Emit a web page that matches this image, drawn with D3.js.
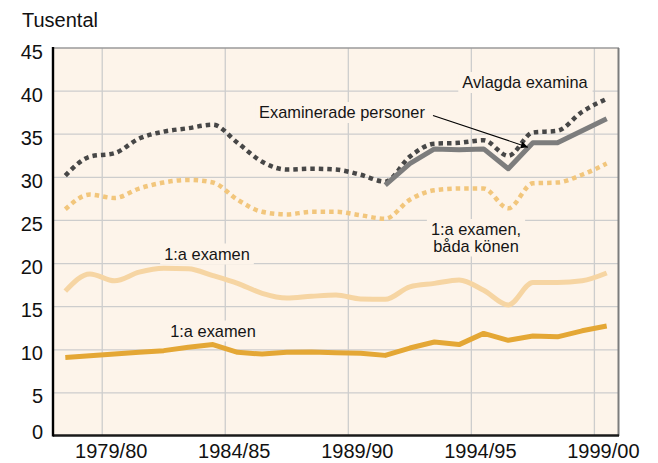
<!DOCTYPE html>
<html>
<head>
<meta charset="utf-8">
<script src="https://cdn.jsdelivr.net/npm/d3@7"></script>
<style>
  html, body { margin: 0; padding: 0; background: #fff; }
  svg { display: block; font-family: "Liberation Sans", Arial, Helvetica, sans-serif; }
</style>
</head>
<body>
<svg id="chart" width="658" height="463"></svg>
<script>
// läsåren på x-axeln
const YEARS = ["1977/78", "1978/79", "1979/80", "1980/81", "1981/82", "1982/83", "1983/84",
  "1984/85", "1985/86", "1986/87", "1987/88", "1988/89", "1989/90", "1990/91", "1991/92",
  "1992/93", "1993/94", "1994/95", "1995/96", "1996/97", "1997/98", "1998/99", "1999/00"];
const X_TICKS = ["1979/80", "1984/85", "1989/90", "1994/95", "1999/00"];
const Y_TICKS = [0, 5, 10, 15, 20, 25, 30, 35, 40, 45];

// tusental
const avlagdaExamina = [30.2, 32.4, 32.8, 34.5, 35.3, 35.7, 36.1, 34.0, 31.8, 30.9, 31.0, 30.9,
  30.3, 29.5, 32.4, 33.9, 34.0, 34.3, 32.5, 35.2, 35.4, 37.6, 39.1];
const examineradePersoner = [null, null, null, null, null, null, null, null, null, null, null, null,
  null, 29.1, 31.6, 33.3, 33.2, 33.3, 31.0, 34.0, 34.0, 35.4, 36.8];
const forstaExamenBada = [26.3, 28.0, 27.6, 28.7, 29.4, 29.7, 29.4, 27.4, 26.0, 25.7, 26.0, 26.0,
  25.6, 25.2, 27.4, 28.5, 28.7, 28.7, 26.4, 29.3, 29.4, 30.3, 31.6];
const forstaExamenKvinnor = [16.8, 18.8, 18.0, 19.0, 19.45, 19.4, 18.6, 17.7, 16.55, 16.0, 16.2, 16.35,
  15.9, 15.85, 17.3, 17.7, 18.1, 16.9, 15.2, 17.8, 17.8, 18.0, 18.9];
const forstaExamenMan = [9.1, 9.3, 9.5, 9.7, 9.9, 10.3, 10.6, 9.7, 9.5, 9.7, 9.75, 9.65,
  9.6, 9.35, 10.2, 10.9, 10.6, 11.9, 11.1, 11.6, 11.5, 12.2, 12.75];

const svg = d3.select("#chart");
const plot = { left: 53, right: 619, top: 48, bottom: 436 };

const x = d3.scaleBand().domain(YEARS).range([plot.left, plot.right]);
const y = d3.scaleLinear().domain([0, 45]).range([plot.bottom, plot.top]);
const bw = x.bandwidth();
const cx = d => x(d) + bw / 2;

// bakgrund
svg.append("rect")
  .attr("x", plot.left).attr("y", plot.top)
  .attr("width", plot.right - plot.left).attr("height", plot.bottom - plot.top)
  .attr("fill", "#fdf4ea");

// rutnät
const grid = svg.append("g").attr("stroke", "#cdcdcd").attr("stroke-width", 1.3);
grid.selectAll("line.h")
  .data(Y_TICKS.filter(d => d > 0 && d < 45))
  .join("line")
  .attr("class", "h")
  .attr("x1", plot.left).attr("x2", plot.right)
  .attr("y1", d => y(d)).attr("y2", d => y(d));
grid.selectAll("line.v")
  .data(X_TICKS)
  .join("line")
  .attr("class", "v")
  .attr("x1", d => x(d)).attr("x2", d => x(d))
  .attr("y1", plot.top).attr("y2", plot.bottom);

// ram
svg.append("line").attr("x1", plot.left).attr("x2", plot.right).attr("y1", plot.top).attr("y2", plot.top)
  .attr("stroke", "#9a9a9a").attr("stroke-width", 1.3);
svg.append("line").attr("x1", plot.right - 0.5).attr("x2", plot.right - 0.5)
  .attr("y1", plot.top).attr("y2", plot.bottom)
  .attr("stroke", "#7c7c7c").attr("stroke-width", 2);

// textrutor (ritas först så att de täcker rutnätet)
const labels = [
  { lines: ["Avlagda examina"], x: 525, y: 88 },
  { lines: ["Examinerade personer"], x: 342, y: 118 },
  { lines: ["1:a examen,", "båda könen"], x: 476, y: 235 },
  { lines: ["1:a examen"], x: 207, y: 259.5 },
  { lines: ["1:a examen"], x: 213, y: 336.5 }
];
const boxLayer = svg.append("g");

const seriesLayer = svg.append("g");
const line = curve => d3.line()
  .defined(d => d != null)
  .x((d, i) => cx(YEARS[i]))
  .y(d => y(d))
  .curve(curve);

const series = [
  { values: forstaExamenKvinnor, color: "#f6d5a3", width: 5, dash: null, curve: d3.curveMonotoneX },
  { values: forstaExamenMan, color: "#e4a735", width: 5, dash: null, curve: d3.curveLinear },
  { values: forstaExamenBada, color: "#f2c67c", width: 4.5, dash: "4.5,4", curve: d3.curveMonotoneX },
  { values: avlagdaExamina, color: "#474747", width: 4.5, dash: "4.5,4", curve: d3.curveMonotoneX },
  { values: examineradePersoner, color: "#7d7d7d", width: 5, dash: null, curve: d3.curveLinear }
];
seriesLayer.selectAll("path")
  .data(series)
  .join("path")
  .attr("d", s => line(s.curve)(s.values))
  .attr("fill", "none")
  .attr("stroke", s => s.color)
  .attr("stroke-width", s => s.width)
  .attr("stroke-dasharray", s => s.dash)
  .attr("stroke-linejoin", "round");

// etiketter
const textLayer = svg.append("g")
  .attr("font-size", 16.4).attr("fill", "#151515").attr("text-anchor", "middle");
labels.forEach(l => {
  const t = textLayer.append("text").attr("x", l.x).attr("y", l.y);
  l.lines.forEach((s, i) => t.append("tspan").attr("x", l.x).attr("dy", i ? 16.5 : 0).text(s));
  const b = t.node().getBBox();
  boxLayer.append("rect")
    .attr("x", b.x - 4).attr("y", b.y - 1)
    .attr("width", b.width + 8).attr("height", b.height + 3)
    .attr("fill", "#fdf4ea");
});

// pil till "Examinerade personer"
svg.append("defs").append("marker")
  .attr("id", "arrow").attr("viewBox", "0 0 10 10")
  .attr("refX", 10).attr("refY", 5)
  .attr("markerWidth", 9).attr("markerHeight", 7)
  .attr("markerUnits", "userSpaceOnUse")
  .attr("orient", "auto")
  .append("path").attr("d", "M0,0L10,5L0,10z").attr("fill", "#000");
svg.append("line")
  .attr("x1", 433).attr("y1", 115.5)
  .attr("x2", cx("1996/97") - 5).attr("y2", y(33.5))
  .attr("stroke", "#000").attr("stroke-width", 1.1)
  .attr("marker-end", "url(#arrow)");

// axlar
const yAxis = svg.append("g")
  .attr("transform", `translate(${plot.left},0)`)
  .call(d3.axisLeft(y).tickValues(Y_TICKS).tickSize(0).tickPadding(10));
yAxis.select(".domain").remove();
yAxis.selectAll("text")
  .attr("font-size", 20).attr("fill", "#111")
  .attr("dy", d => d === 0 ? "0.12em" : "0.5em");
yAxis.attr("font-family", null);

const xAxis = svg.append("g")
  .attr("transform", `translate(${9 - bw / 2},${plot.bottom})`)
  .call(d3.axisBottom(x).tickValues(X_TICKS).tickSize(0).tickPadding(8));
xAxis.select(".domain").remove();
xAxis.selectAll("text")
  .attr("font-size", 20).attr("fill", "#111");
xAxis.attr("font-family", null);

svg.append("line").attr("x1", plot.left).attr("x2", plot.right)
  .attr("y1", plot.bottom - 0.5).attr("y2", plot.bottom - 0.5)
  .attr("stroke", "#1a1a1a").attr("stroke-width", 2.3);
svg.append("line").attr("x1", plot.left).attr("x2", plot.left)
  .attr("y1", plot.top - 1).attr("y2", plot.bottom + 0.5)
  .attr("stroke", "#000").attr("stroke-width", 2.4);

svg.append("text")
  .attr("x", 22).attr("y", 27)
  .attr("font-size", 20).attr("fill", "#111")
  .text("Tusental");
</script>
</body>
</html>
